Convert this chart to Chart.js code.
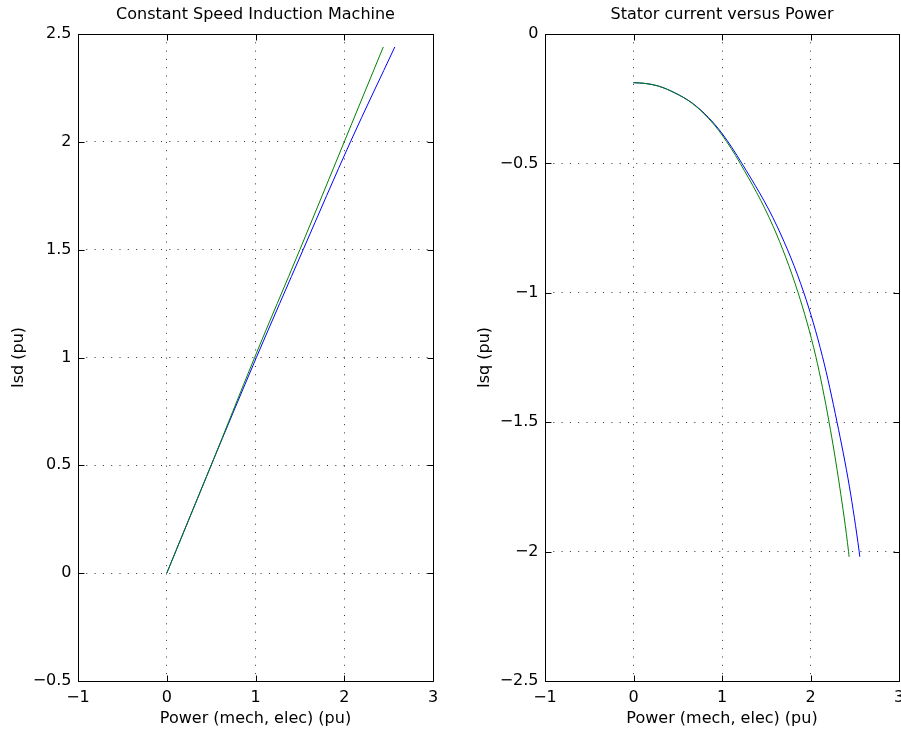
<!DOCTYPE html>
<html><head><meta charset="utf-8">
<script src="https://cdn.jsdelivr.net/npm/chart.js@4/dist/chart.umd.min.js"></script>
<style>
html,body{margin:0;padding:0;overflow:hidden;background:#fff;width:901px;height:733px;}
#c1{position:absolute;left:0;top:0;}
#c2{position:absolute;left:450px;top:0;}
</style></head><body>
<canvas id="c1" width="450" height="733" style="width:450px;height:733px"></canvas>
<canvas id="c2" width="451" height="733" style="width:451px;height:733px"></canvas>
<script>
// ---- tick labels ----
const xTickValues = [-1, 0, 1, 2, 3];
const xTickLabels = ['\u22121', '0', '1', '2', '3'];
const isdTickValues = [-0.5, 0, 0.5, 1, 1.5, 2, 2.5];
const isdTickLabels = ['\u22120.5', '0', '0.5', '1', '1.5', '2', '2.5'];
const isqTickValues = [-2.5, -2, -1.5, -1, -0.5, 0];
const isqTickLabels = ['\u22122.5', '\u22122', '\u22121.5', '\u22121', '\u22120.5', '0'];

// ---- left subplot: Isd vs Power ----
const isdPowerBlue  = [0, 0.5, 1.01, 1.537, 2.07, 2.57];
const isdBlue       = [0, 0.5, 1.0, 1.5, 2.0, 2.44];
const isdPowerGreen = [0, 0.5, 0.99, 1.5, 2.0, 2.44];
const isdGreen      = [0, 0.5, 1.0, 1.5, 2.0, 2.44];

// ---- right subplot: Isq vs Power ----
const isqPowerBlue  = [0, 0.13, 0.28, 0.47, 0.66, 0.845, 1.0, 1.225, 1.625, 1.925, 2.135, 2.30, 2.44, 2.55, 2.557];
const isqBlue       = [-0.188, -0.191, -0.201, -0.228, -0.266, -0.322, -0.384, -0.5, -0.745, -1.0, -1.246, -1.5, -1.75, -2.0, -2.02];
const isqPowerGreen = [0, 0.13, 0.28, 0.47, 0.66, 0.845, 1.0, 1.206, 1.58, 1.86, 2.06, 2.21, 2.33, 2.43, 2.436];
const isqGreen      = [-0.188, -0.191, -0.201, -0.228, -0.267, -0.325, -0.39, -0.5, -0.745, -1.0, -1.246, -1.5, -1.75, -2.0, -2.02];

Chart.defaults.font.family = "'DejaVu Sans', sans-serif";
Chart.defaults.font.size = 16;
Chart.defaults.color = '#000';
Chart.defaults.animation = false;

function pts(xs, ys) { return xs.map((x, i) => ({x: x, y: ys[i]})); }
function labelFor(values, labels) {
  return v => { const i = values.findIndex(t => Math.abs(t - v) < 1e-9); return i >= 0 ? labels[i] : ''; };
}

const boxPlugin = {
  id: 'boxTicks',
  afterLayout(chart) {
    const tb = chart.titleBlock, a = chart.chartArea;
    if (tb) { tb.left = a.left; tb.right = a.right; tb.width = a.right - a.left; }
  },
  afterDraw(chart) {
    const {ctx, chartArea: a, scales} = chart;
    const L = Math.round(a.left) + 0.5, R = Math.round(a.right) + 0.5;
    const T = Math.round(a.top) + 0.5, B = Math.round(a.bottom) + 0.5;
    const tl = 6;
    ctx.save();
    ctx.strokeStyle = '#000';
    ctx.lineWidth = 1;
    ctx.beginPath();
    ctx.rect(L, T, R - L, B - T);
    scales.x.ticks.forEach(t => {
      const p = Math.round(scales.x.getPixelForValue(t.value)) + 0.5;
      ctx.moveTo(p, B); ctx.lineTo(p, B - tl);
      ctx.moveTo(p, T); ctx.lineTo(p, T + tl);
    });
    scales.y.ticks.forEach(t => {
      const p = Math.round(scales.y.getPixelForValue(t.value)) + 0.5;
      ctx.moveTo(L, p); ctx.lineTo(L + tl, p);
      ctx.moveTo(R, p); ctx.lineTo(R - tl, p);
    });
    ctx.stroke();
    ctx.restore();
  }
};

function makeChart(id, cfg) {
  return new Chart(document.getElementById(id), {
    type: 'line',
    data: {
      datasets: [
        {data: pts(cfg.gx, cfg.gy), borderColor: '#008000', borderWidth: 1, pointRadius: 0,
         cubicInterpolationMode: 'monotone', fill: false, order: 0},
        {data: pts(cfg.bx, cfg.by), borderColor: '#0000ff', borderWidth: 1, pointRadius: 0,
         cubicInterpolationMode: 'monotone', fill: false, order: 1}
      ]
    },
    options: {
      responsive: false,
      maintainAspectRatio: false,
      layout: {padding: {left: 0, right: cfg.padRight, top: 0, bottom: 0}},
      plugins: {
        legend: {display: false},
        tooltip: {enabled: false},
        title: {display: true, text: cfg.title, font: {size: 16, weight: 'normal'},
                color: '#000', padding: {top: 5, bottom: 9.8}}
      },
      scales: {
        x: {
          type: 'linear', min: -1, max: 3,
          afterFit: s => { s.height = 52; s.paddingLeft = 0; s.paddingRight = 0; s.paddingTop = 0; s.paddingBottom = 0; },
          ticks: {stepSize: 1, padding: 7, maxRotation: 0, autoSkip: false,
                  callback: labelFor(xTickValues, xTickLabels)},
          grid: {color: 'rgba(0,0,0,0.8)', lineWidth: 1, drawTicks: false},
          border: {display: false, dash: [1, 7.3]},
          title: {display: true, text: 'Power (mech, elec) (pu)', padding: {top: 0, bottom: 5}}
        },
        y: {
          type: 'linear', min: cfg.ymin, max: cfg.ymax,
          afterFit: s => { s.width = cfg.yWidth; s.paddingTop = 0; s.paddingBottom = 0; s.paddingLeft = 0; s.paddingRight = 0; },
          ticks: {stepSize: 0.5, padding: 6.5, autoSkip: false,
                  callback: labelFor(cfg.tickValues, cfg.tickLabels)},
          grid: {color: 'rgba(0,0,0,0.8)', lineWidth: 1, drawTicks: false},
          border: {display: false, dash: [1, 7.3]},
          title: {display: true, text: cfg.ytitle, padding: {top: cfg.yTitlePad, bottom: 4}}
        }
      }
    },
    plugins: [boxPlugin]
  });
}

makeChart('c1', {
  title: 'Constant Speed Induction Machine', ytitle: 'Isd (pu)',
  gx: isdPowerGreen, gy: isdGreen, bx: isdPowerBlue, by: isdBlue,
  ymin: -0.5, ymax: 2.5, tickValues: isdTickValues, tickLabels: isdTickLabels,
  yWidth: 78, padRight: 17, yTitlePad: 9.4
});
makeChart('c2', {
  title: 'Stator current versus Power', ytitle: 'Isq (pu)',
  gx: isqPowerGreen, gy: isqGreen, bx: isqPowerBlue, by: isqBlue,
  ymin: -2.5, ymax: 0, tickValues: isqTickValues, tickLabels: isqTickLabels,
  yWidth: 95, padRight: 2, yTitlePad: 24.9
});
</script>
</body></html>
